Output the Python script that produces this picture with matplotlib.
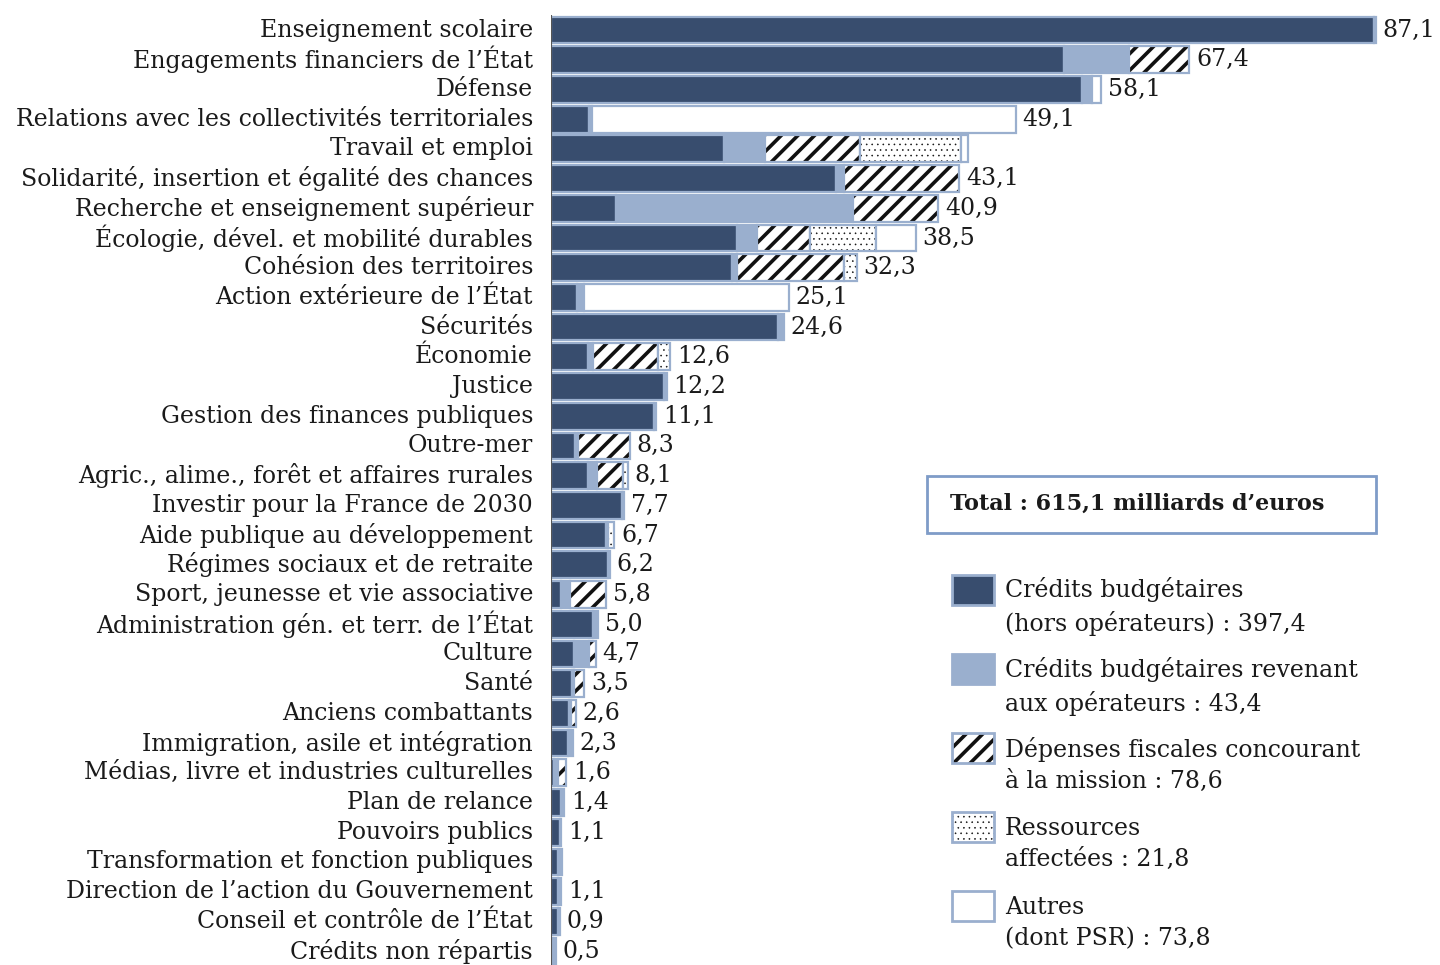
import matplotlib
matplotlib.use("Agg")
import matplotlib.pyplot as plt
from matplotlib.patches import Rectangle
import numpy as np

plt.rcParams['font.family'] = ['DejaVu Serif']
plt.rcParams['hatch.linewidth'] = 2.5

missions = [
    "Enseignement scolaire", "Engagements financiers de l\u2019État", "Défense",
    "Relations avec les collectivités territoriales", "Travail et emploi",
    "Solidarité, insertion et égalité des chances",
    "Recherche et enseignement supérieur", "Écologie, dével. et mobilité durables",
    "Cohésion des territoires", "Action extérieure de l\u2019État", "Sécurités",
    "Économie", "Justice", "Gestion des finances publiques", "Outre-mer",
    "Agric., alime., forêt et affaires rurales", "Investir pour la France de 2030",
    "Aide publique au développement", "Régimes sociaux et de retraite",
    "Sport, jeunesse et vie associative", "Administration gén. et terr. de l\u2019État",
    "Culture", "Santé", "Anciens combattants", "Immigration, asile et intégration",
    "Médias, livre et industries culturelles", "Plan de relance", "Pouvoirs publics",
    "Transformation et fonction publiques", "Direction de l\u2019action du Gouvernement",
    "Conseil et contrôle de l\u2019État", "Crédits non répartis",
]

# en milliards d'euros
credits_hors_op = [86.9, 54.2, 56.1, 4.0, 18.3, 30.1, 6.9, 19.6, 19.1, 2.7, 24.0,
                   3.9, 11.9, 10.9, 2.5, 3.9, 7.5, 5.8, 6.0, 1.1, 4.4, 2.4, 2.2,
                   1.9, 1.8, 0.3, 1.1, 1.0, 0.7, 0.7, 0.7, 0.2]
credits_operateurs = [0.2, 6.8, 1.0, 0.3, 4.3, 0.8, 25.0, 2.2, 0.5, 0.8, 0.6,
                      0.5, 0.3, 0.2, 0.4, 1.0, 0.2, 0.2, 0.2, 0.9, 0.6, 1.6, 0.2,
                      0.2, 0.5, 0.4, 0.3, 0.1, 0.5, 0.4, 0.2, 0.3]
depenses_fiscales = [0, 6.4, 0, 0, 10.0, 12.2, 9.0, 5.5, 11.3, 0, 0,
                     6.9, 0, 0, 5.4, 2.7, 0, 0, 0, 3.8, 0, 0.7, 1.1,
                     0.5, 0, 0.9, 0, 0, 0, 0, 0, 0]
ressources_affectees = [0, 0, 0, 0, 10.7, 0, 0, 7.0, 1.4, 0, 0,
                        1.3, 0, 0, 0, 0.5, 0, 0.7, 0, 0, 0, 0, 0,
                        0, 0, 0, 0, 0, 0, 0, 0, 0]
autres = [0, 0, 1.0, 44.8, 0.7, 0, 0, 4.2, 0, 21.6, 0,
          0, 0, 0, 0, 0, 0, 0, 0, 0, 0, 0, 0,
          0, 0, 0, 0, 0, 0, 0, 0, 0]
# missions dont le total n'est pas affiché
sans_total = ["Travail et emploi", "Transformation et fonction publiques"]

legende = [
    "Crédits budgétaires\n(hors opérateurs) : 397,4",
    "Crédits budgétaires revenant\naux opérateurs : 43,4",
    "Dépenses fiscales concourant\nà la mission : 78,6",
    "Ressources\naffectées : 21,8",
    "Autres\n(dont PSR) : 73,8",
]
titre_total = "Total : 615,1 milliards d\u2019euros"

DARK = "#384d6e"
LIGHT = "#9aafce"
EDGE = "#9aafce"
TXT = "#1a1a1a"
FS = 17
styles = [
    dict(color=DARK, hatch=None, hlw=2.5),
    dict(color=LIGHT, hatch=None, hlw=2.5),
    dict(color="white", hatch="//", hlw=2.6),
    dict(color="white", hatch="...", hlw=0.4),
    dict(color="white", hatch=None, hlw=2.5),
]
series = [credits_hors_op, credits_operateurs, depenses_fiscales,
          ressources_affectees, autres]

W, H = 1440, 965
fig = plt.figure(figsize=(W / 100, H / 100), dpi=100)
ax = fig.add_axes([551 / W, 0, 1 - 551 / W, 1])

y = np.arange(len(missions))
left = np.zeros(len(missions))
bh = 0.9
for vals, st in zip(series, styles):
    vals = np.array(vals, dtype=float)
    m = vals > 0
    # remplissage (hachures en noir), puis contour bleu clair
    with plt.rc_context({'hatch.linewidth': st["hlw"]}):
        ax.barh(y[m], vals[m], left=left[m], height=bh, color=st["color"],
                hatch=st["hatch"], edgecolor="#111111", linewidth=0)
    ax.barh(y[m], vals[m], left=left[m], height=bh, fill=False,
            edgecolor=EDGE, linewidth=1.6)
    left += vals

for i, (name, tot) in enumerate(zip(missions, left)):
    ax.text(-1.9, i, name, ha="right", va="center", fontsize=FS, color=TXT,
            clip_on=False)
    if name not in sans_total:
        ax.text(tot + 0.7, i, f"{tot:.1f}".replace(".", ","), ha="left",
                va="center", fontsize=FS, color=TXT)

ax.vlines(0, -0.5, len(missions) + 0.5, color="#555555", linewidth=1.5)
ax.set_xlim(0, (W - 551) / 9.47)
ax.set_ylim(31.47, -1.01)
ax.axis("off")


def fx(px):
    return px / W


def fy(py):
    return 1 - py / H


# encadré du total
fig.add_artist(Rectangle((fx(927), fy(533)), fx(1376) - fx(927), fy(476) - fy(533),
                         transform=fig.transFigure, facecolor="white",
                         edgecolor="#7f9cc8", linewidth=2))
fig.text(fx(950), fy(504), titre_total, ha="left", va="center", fontsize=16,
         fontweight="bold", color=TXT)

# légende
for k, (txt, st) in enumerate(zip(legende, styles)):
    cy = 590 + k * 79
    with plt.rc_context({'hatch.linewidth': st["hlw"]}):
        fig.add_artist(Rectangle((fx(952), fy(cy + 15)), fx(42), fy(0) - fy(30),
                                 transform=fig.transFigure, facecolor=st["color"],
                                 hatch=st["hatch"], edgecolor="#111111",
                                 linewidth=0))
    fig.add_artist(Rectangle((fx(952), fy(cy + 15)), fx(42), fy(0) - fy(30),
                             transform=fig.transFigure, fill=False,
                             edgecolor=EDGE, linewidth=2))
    fig.text(fx(1005), fy(cy + 17), txt, ha="left", va="center", fontsize=FS,
             color=TXT, linespacing=1.45)

fig.savefig("out.png", dpi=100, facecolor="white")
